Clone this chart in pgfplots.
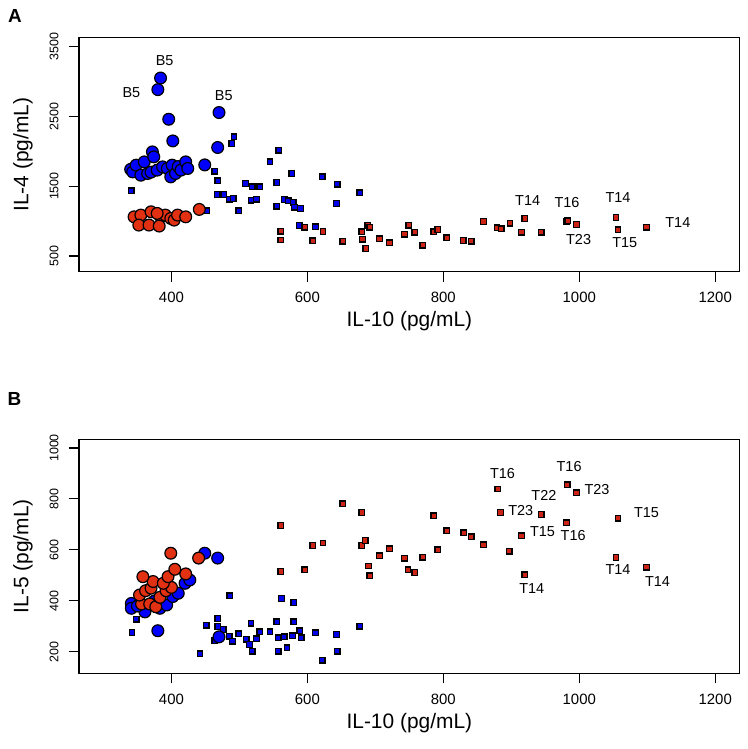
\documentclass[border=0pt]{standalone}
\usepackage{pgfplots}
\pgfplotsset{compat=1.18}
\usepackage{fontspec}
\setmainfont{Liberation Sans}
\definecolor{cblue}{RGB}{0,0,255}
\definecolor{cred}{RGB}{226,48,18}
\definecolor{sred}{RGB}{205,35,20}
\definecolor{sblue}{RGB}{0,0,235}
\pgfplotsset{
 panel/.style={
  scale only axis, width=660.7bp, height=234bp,
  xmin=264, xmax=1236,
  axis line style={line width=1.3bp},
  tick pos=left, tick align=outside,
  major tick length=10bp,
  every tick/.style={black, line width=1.1bp},
  xtick={400,600,800,1000,1200},
  xticklabels={400,600,800,1000,1200},
  xticklabel style={font=\fontsize{15}{15}\selectfont, anchor=north},
  xticklabel shift=7bp,
  yticklabel style={font=\fontsize{12.5}{13}\selectfont, rotate=90, anchor=south},
  yticklabel shift=7bp,
  xlabel={IL-10 (pg/mL)},
  label style={font=\fontsize{21}{24}\selectfont},
  xlabel style={at={(axis description cs:0.5,-0.212)}, anchor=center},
  ylabel style={at={(axis description cs:-0.0848,0.5)}, anchor=center},
  clip=false,
 },
 bc/.style={only marks, mark=*, mark size=5.9bp, mark options={fill=cblue, draw=black, line width=1.2bp}},
 rc/.style={only marks, mark=*, mark size=5.9bp, mark options={fill=cred, draw=black, line width=1.2bp}},
 bs/.style={only marks, mark=square*, mark size=2.8bp, mark options={fill=sblue, draw=black, line width=1.3bp}},
 rs/.style={only marks, mark=square*, mark size=2.8bp, mark options={fill=sred, draw=black, line width=1.3bp}},
}
\newcommand\lab[2]{\node[font=\fontsize{14.5}{15}\selectfont] at (axis cs:#1) {#2};}
\begin{document}
\begin{tikzpicture}
\path[use as bounding box] (0,0) rectangle (748bp,749bp);
\node[font=\bfseries\fontsize{19}{20}\selectfont] at (15bp,733bp) {A};
\node[font=\bfseries\fontsize{19}{20}\selectfont] at (14.5bp,350bp) {B};
% ---------------- Panel A ----------------
\begin{axis}[panel, at={(79bp,477.3bp)}, anchor=south west,
  ymin=276, ymax=3624, ytick={500,1500,2500,3500},
  yticklabels={500,1500,2500,3500},
  ylabel={IL-4 (pg/mL)}]
\addplot[bs] coordinates {
(341,1433) (452,1147) (464,1714) (468,1576) (467,1381) (477,1381) (485,1314)
(491,1324) (489,2110) (492,2204) (499,1147) (509,1539) (519,1490) (530,1490)
(517,1300) (525,1314) (545,1847) (558,2014) (555,1553) (577,1681) (555,1214)
(566,1310) (572,1290) (579,1267) (581,1200) (590,1181) (588,936) (612,919)
(622,1633) (644,1529) (643,1253) (677,1404)
};
\addplot[rs] coordinates {
(561,857) (561,729) (596,914) (608,719) (623,853) (652,714) (680,847) (681,739)
(686,610) (689,943) (692,914) (706,747) (721,690) (743,814) (749,943) (758,839)
(770,657) (786,847) (792,881) (805,761) (829,724) (841,714) (859,996) (879,904)
(885,890) (898,971) (915,839) (920,1039) (944,839) (981,996) (983,1003) (996,953)
(1054,1053) (1057,876) (1099,914)
};
\addplot[bc] coordinates {
(340,1740) (343,1704) (348,1800) (355,1657) (360,1847) (365,1681) (370,1700)
(372,1990) (374,1919) (379,1729) (387,1776) (394,1753) (399,1633) (401,1800)
(406,1681) (410,1780) (414,1729) (421,1847) (424,1753) (449,1804) (468,2053)
(470,2553) (402,2147) (396,2457) (380,2881) (384,3047)
};
\addplot[rc] coordinates {
(345,1061) (355,1086) (370,1133) (384,1061) (391,1086) (399,1038) (404,1014)
(409,1086) (421,1061) (441,1167) (379,1110) (352,943) (367,943) (382,929)
};
\lab{390,3300}{B5}
\lab{341,2833}{B5}
\lab{477,2800}{B5}
\lab{924,1300}{T14}
\lab{982,1261}{T16}
\lab{999,739}{T23}
\lab{1057,1339}{T14}
\lab{1067,690}{T15}
\lab{1145,976}{T14}
\end{axis}
% ---------------- Panel B ----------------
\begin{axis}[panel, at={(79bp,75.7bp)}, anchor=south west,
  ymin=116, ymax=1034, ytick={200,400,600,800,1000},
  yticklabels={200,400,600,800,1000},
  ylabel={IL-5 (pg/mL)}]
\addplot[bs] coordinates {
(342,276) (348,328) (442,192) (451,305) (468,331) (468,300) (476,288) (464,243)
(485,262) (490,242) (499,271) (510,250) (515,229) (519,203) (517,312) (525,251)
(530,279) (545,279) (555,318) (562,409) (557,255) (566,259) (557,203) (570,216)
(580,394) (580,318) (578,263) (589,283) (591,255) (612,275) (622,167) (643,268)
(644,203) (677,301) (486,420)
};
\addplot[rs] coordinates {
(561,696) (561,515) (596,522) (608,617) (623,627) (652,781) (680,747) (680,617)
(685,637) (690,537) (692,499) (706,577) (721,604) (743,568) (748,522) (758,511)
(770,572) (786,734) (792,600) (805,675) (830,667) (841,652) (859,620) (880,839)
(884,747) (897,595) (915,655) (920,503) (944,739) (982,856) (996,824) (981,706)
(1057,724) (1054,570) (1099,532)
};
\addplot[bc] coordinates {
(341,390) (341,371) (361,357) (383,371) (393,384) (402,417) (420,469) (427,482)
(410,430) (375,400) (350,380) (380,283) (470,259) (449,587) (468,568)
};
\addplot[rc] coordinates {
(356,388) (368,388) (377,377) (353,423) (383,414) (362,440) (392,440) (370,450)
(400,453) (373,476) (388,469) (395,495) (358,495) (421,506) (405,524) (399,587)
(440,568)
};
\lab{887,898}{T16}
\lab{985,926}{T16}
\lab{1026,837}{T23}
\lab{948,813}{T22}
\lab{914,755}{T23}
\lab{946,670}{T15}
\lab{991,657}{T16}
\lab{1099,745}{T15}
\lab{1057,522}{T14}
\lab{1115,476}{T14}
\lab{930,450}{T14}
\end{axis}
\end{tikzpicture}
\end{document}
